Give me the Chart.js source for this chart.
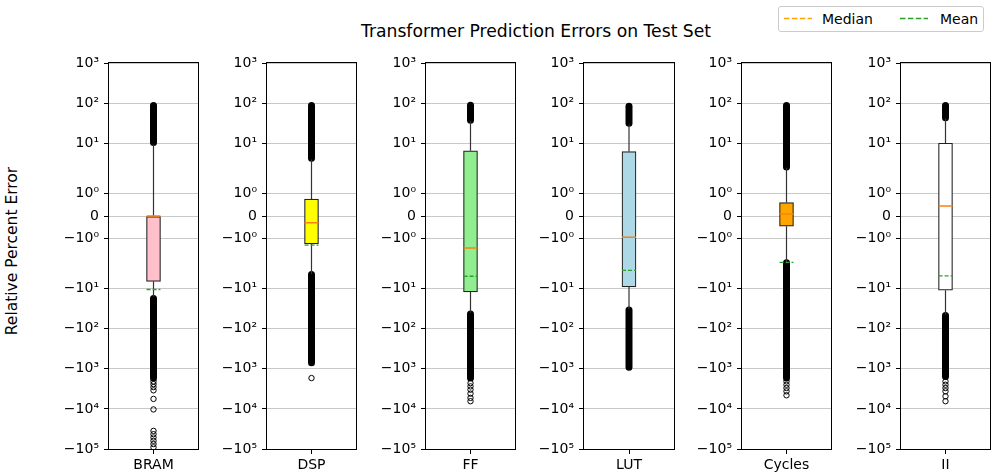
<!DOCTYPE html>
<html>
<head>
<meta charset="utf-8">
<title>Transformer Prediction Errors on Test Set</title>
<script src="https://cdn.jsdelivr.net/npm/chart.js@4.4.1/dist/chart.umd.min.js"></script>
<style>
  body { margin: 0; background: #fff; }
  #fig { position: relative; width: 997px; height: 476px; overflow: hidden; background: #fff;
         font-family: 'DejaVu Sans', sans-serif; color: #000; }
  #fig canvas { position: absolute; }
  #title { position: absolute; left: 536px; top: 21px; transform: translateX(-50%);
           font-size: 17.2px; white-space: nowrap; line-height: normal; }
  #ylabel { position: absolute; left: 12px; top: 251px; transform: translate(-50%, -50%) rotate(-90deg);
            font-size: 15.5px; white-space: nowrap; line-height: normal; }
  #legend { position: absolute; left: 778px; top: 6px; }
</style>
</head>
<body>
<div id="fig">
  <div id="title">Transformer Prediction Errors on Test Set</div>
  <div id="ylabel">Relative Percent Error</div>
  <svg id="legend" width="206" height="26" font-family="DejaVu Sans, sans-serif">
    <rect x="0.5" y="0.5" width="205" height="25" rx="2.5" fill="rgba(255,255,255,0.8)" stroke="#cccccc"/>
    <line x1="6" y1="12.5" x2="34" y2="12.5" stroke="orange" stroke-width="1.5" stroke-dasharray="5.5 2.4"/>
    <text x="44" y="17.5" font-size="14">Median</text>
    <line x1="122" y1="12.5" x2="150" y2="12.5" stroke="#2ca02c" stroke-width="1.5" stroke-dasharray="5.5 2.4"/>
    <text x="162" y="17.5" font-size="14">Mean</text>
  </svg>
</div>
<script>
// values (relative percent error)
const metrics = ['BRAM', 'DSP', 'FF', 'LUT', 'Cycles', 'II'];
const q1 = [-6.6, -1.25, -12, -9.0, -0.45, -10.9];
const q3 = [0, 0.76, 6.6, 6.3, 0.61, 10.2];
const medians = [0, -0.3, -1.43, -0.95, 0.1, 0.45];
const means = [-10.5, -1.3, -4.9, -3.5, -2.2, -4.8];
const whiskerLow = [-16, -4.3, -40, -32, -2.2, -45];
const whiskerHigh = [9.5, 4, 36, 30, 2.5, 42];
// outliers so dense that they merge into a solid bar: [from, to]
const denseHigh = [[10.6, 89], [4.3, 89], [38, 90], [32, 85], [2.6, 89], [44, 89]];
const denseLow = [[-17.5, -1700], [-4.4, -700], [-43, -1700], [-34, -914], [-2.25, -1700], [-47, -1550]];
// single outliers that can be told apart
const sparseOutliers = [
  [-2060, -2400, -2850, -3440, -5630, -10300, -35300, -42700, -51600, -62300, -75300, -91000],
  [-1700],
  [-2270, -2740, -3310, -4160, -5310, -6430],
  [],
  [-2060, -2490, -3010, -3640, -4570],
  [-2060, -2490, -3010, -3640, -4840, -6430]
];
const yTicks = [1e3, 1e2, 1e1, 1, 0, -1, -1e1, -1e2, -1e3, -1e4, -1e5];
const yTickLabels = ['10³', '10²', '10¹', '10⁰', '0', '−10⁰', '−10¹', '−10²', '−10³', '−10⁴', '−10⁵'];

const boxColors = ['pink', 'yellow', 'lightgreen', 'lightblue', 'orange', 'white'];

// layout
const PANEL_LEFT0 = 108.7, PANEL_STEP = 158.4, PANEL_W = 90;
const YW = 60, PAD_R = 4, PAD_T = 10, XH = 27;
const CANVAS_TOP = 50, CANVAS_H = 426;
const BOX_W = 14;
const half = BOX_W / PANEL_W; // x axis runs -1..1 over the panel width

// matplotlib style symlog, linthresh 2, linscale 1
const LINTHRESH = 2, LINSCALE = 1 / (1 - 1 / 10);
function symlog(v) {
  const a = Math.abs(v);
  if (a <= LINTHRESH) return v * LINSCALE;
  return Math.sign(v) * LINTHRESH * (LINSCALE + Math.log10(a / LINTHRESH));
}
function symexp(u) {
  const a = Math.abs(u);
  if (a <= LINTHRESH * LINSCALE) return u / LINSCALE;
  return Math.sign(u) * LINTHRESH * Math.pow(10, a / LINTHRESH - LINSCALE);
}

class SymlogScale extends Chart.LinearScale {
  buildTicks() {
    return yTicks.map(v => ({value: v}));
  }
  configure() {
    super.configure();
    this._sStart = symlog(this.min);
    this._sRange = symlog(this.max) - this._sStart;
  }
  getPixelForValue(value) {
    return this.getPixelForDecimal((symlog(value) - this._sStart) / this._sRange);
  }
  getValueForPixel(pixel) {
    return symexp(this._sStart + this.getDecimalForPixel(pixel) * this._sRange);
  }
}
SymlogScale.id = 'symlog';
SymlogScale.defaults = {};
Chart.register(SymlogScale);

Chart.defaults.font.family = "'DejaVu Sans', sans-serif";
Chart.defaults.font.size = 14;
Chart.defaults.color = '#000';

const framePlugin = {
  id: 'frame',
  afterDraw(chart) {
    const {ctx, chartArea} = chart;
    const l = Math.round(chartArea.left), t = Math.round(chartArea.top);
    const r = Math.round(chartArea.right), b = Math.round(chartArea.bottom);
    ctx.save();
    ctx.strokeStyle = '#000';
    ctx.lineWidth = 1;
    ctx.strokeRect(l - 0.5, t - 0.5, r - l + 1, b - t + 1);
    ctx.restore();
  }
};

function vline(a, b) {
  return [{x: 0, y: a}, {x: 0, y: b}];
}
function hline(y) {
  return [{x: -half, y: y}, {x: half, y: y}];
}

const fig = document.getElementById('fig');

metrics.forEach((name, i) => {
  const canvas = document.createElement('canvas');
  canvas.width = YW + PANEL_W + PAD_R;
  canvas.height = CANVAS_H;
  canvas.style.left = (Math.round(PANEL_LEFT0 + PANEL_STEP * i) - YW) + 'px';
  canvas.style.top = CANVAS_TOP + 'px';
  fig.appendChild(canvas);

  new Chart(canvas, {
    type: 'bar',
    data: {
      datasets: [
        {type: 'line', data: hline(medians[i]), borderColor: '#ff7f0e', borderWidth: 1.5,
         pointRadius: 0, order: 0},
        {type: 'line', data: hline(means[i]), borderColor: '#2ca02c', borderWidth: 1.3,
         borderDash: [4, 2], pointRadius: 0, order: 1},
        {type: 'bar', data: [{x: 0, y: [q1[i], q3[i]]}], backgroundColor: boxColors[i],
         borderColor: '#222', borderWidth: 1.2, borderSkipped: false, barThickness: BOX_W, order: 2},
        {type: 'line', data: vline(q3[i], whiskerHigh[i]), borderColor: '#333', borderWidth: 1.2,
         pointRadius: 0, order: 3},
        {type: 'line', data: vline(q1[i], whiskerLow[i]), borderColor: '#333', borderWidth: 1.2,
         pointRadius: 0, order: 3},
        {type: 'line', data: vline(denseHigh[i][0], denseHigh[i][1]), borderColor: '#000', borderWidth: 7,
         borderCapStyle: 'round', pointRadius: 0, order: 4},
        {type: 'line', data: vline(denseLow[i][0], denseLow[i][1]), borderColor: '#000', borderWidth: 7,
         borderCapStyle: 'round', pointRadius: 0, order: 4},
        {type: 'scatter', data: sparseOutliers[i].map(v => ({x: 0, y: v})), pointRadius: 2.7,
         pointBorderWidth: 1, pointBorderColor: '#000', pointBackgroundColor: 'rgba(0,0,0,0)', order: 5}
      ]
    },
    options: {
      responsive: false,
      animation: false,
      events: [],
      layout: {padding: {top: PAD_T, right: PAD_R, left: 0, bottom: 0}},
      plugins: {legend: {display: false}, tooltip: {enabled: false}},
      scales: {
        x: {
          type: 'linear', min: -1, max: 1, offset: false,
          afterBuildTicks: scale => { scale.ticks = [{value: 0}]; },
          afterFit: scale => { scale.height = XH; },
          ticks: {callback: () => name, padding: 3, autoSkip: false, maxRotation: 0},
          grid: {drawOnChartArea: false, drawTicks: true, tickLength: 5, tickColor: '#000', offset: false},
          border: {display: false}
        },
        y: {
          type: 'symlog', min: -1e5, max: 1e3,
          afterFit: scale => { scale.width = YW; },
          ticks: {callback: (v, idx) => yTickLabels[idx], padding: 5, autoSkip: false},
          grid: {color: '#c8c8c8', lineWidth: 1, drawTicks: true, tickLength: 5, tickColor: '#000'},
          border: {display: false}
        }
      }
    },
    plugins: [framePlugin]
  });
});
</script>
</body>
</html>
